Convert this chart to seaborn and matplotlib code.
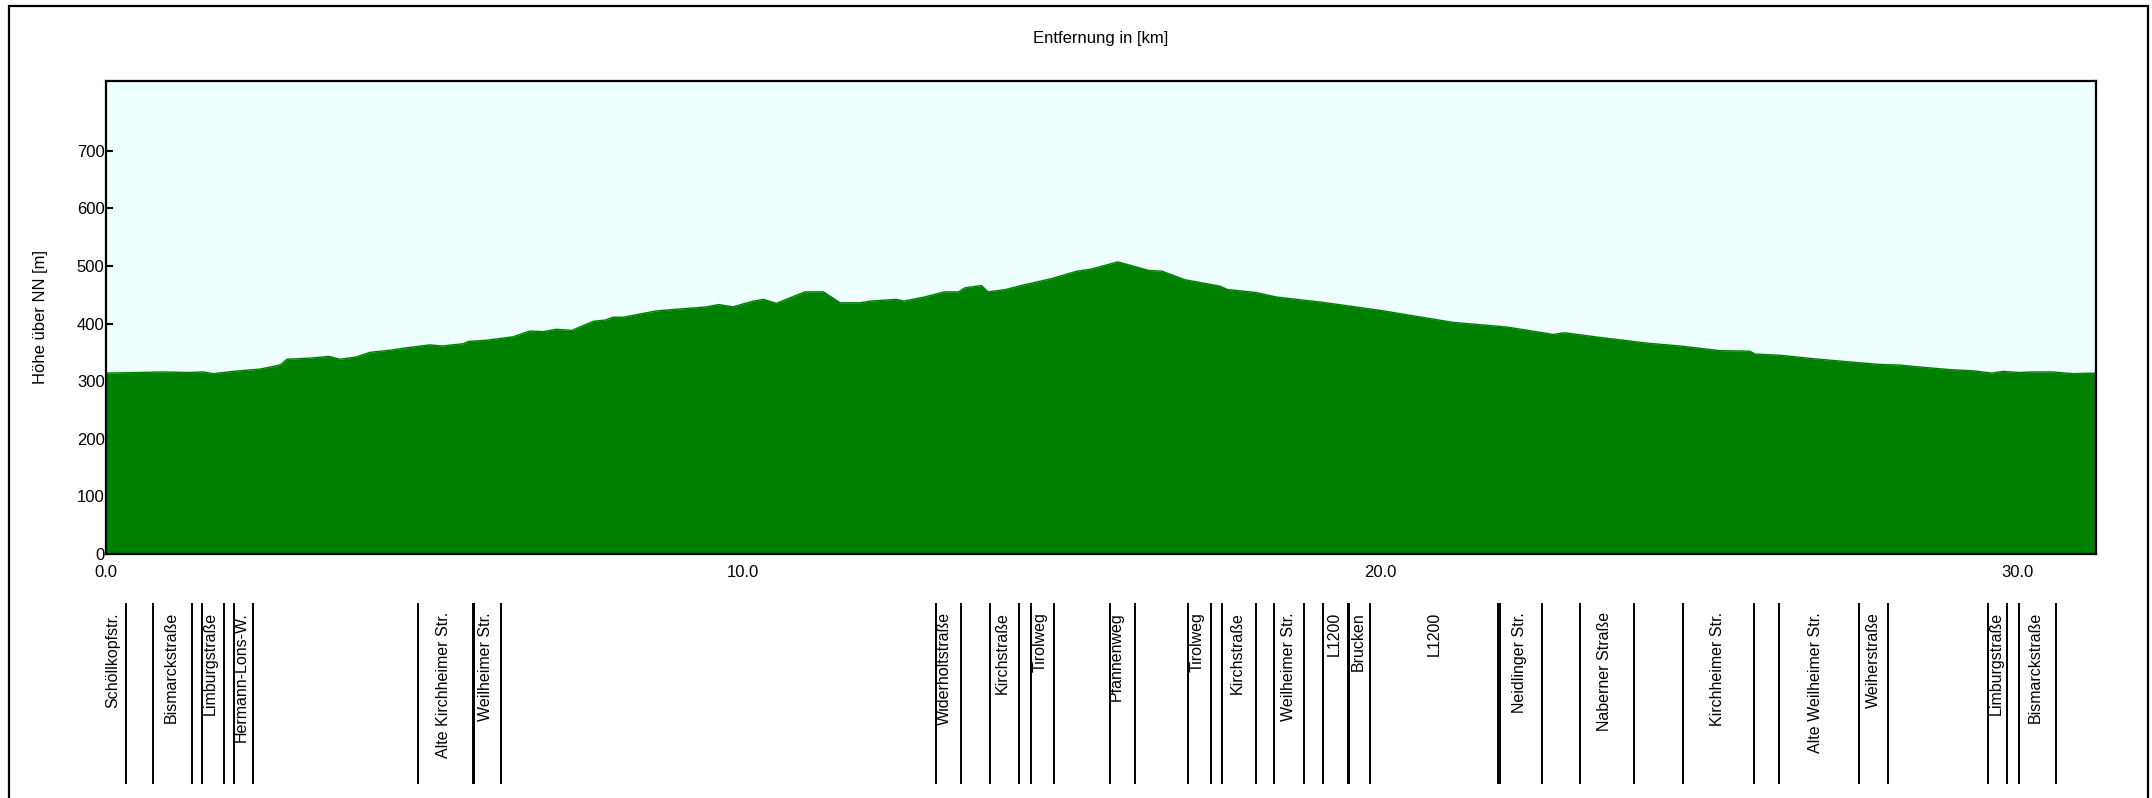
import matplotlib
matplotlib.use("Agg")
import matplotlib.pyplot as plt
from matplotlib.patches import Rectangle
from matplotlib.ticker import FormatStrFormatter
import seaborn as sns

sns.set_theme(style="white")
plt.rcParams['font.family'] = ['Liberation Sans', 'DejaVu Sans']
plt.rcParams['text.color'] = 'black'
plt.rcParams['axes.labelcolor'] = 'black'

# elevation profile (km, m)
dist_km = [0.0, 0.5, 0.9, 1.3, 1.53, 1.68, 2.0, 2.42, 2.73, 2.84, 3.2, 3.5, 3.67, 3.93,
           4.14, 4.48, 4.72, 5.08, 5.27, 5.61, 5.69, 5.97, 6.39, 6.65, 6.86, 7.07, 7.31,
           7.65, 7.83, 7.96, 8.12, 8.64, 9.43, 9.61, 9.84, 10.16, 10.32, 10.52, 10.72,
           10.97, 11.26, 11.52, 11.83, 12.0, 12.4, 12.52, 12.84, 13.16, 13.38, 13.48,
           13.74, 13.84, 14.12, 14.36, 14.84, 15.24, 15.44, 15.88, 16.37, 16.57, 16.93,
           17.48, 17.6, 18.04, 18.37, 19.08, 19.99, 21.14, 21.98, 22.55, 22.71, 22.89,
           23.44, 24.18, 24.7, 25.33, 25.8, 25.88, 26.27, 26.79, 27.3, 27.84, 28.15,
           28.42, 28.94, 29.3, 29.6, 29.77, 30.03, 30.24, 30.55, 30.87, 31.23]
elev_m = [314, 315, 316, 315, 316, 313, 317, 321, 328, 338, 340, 343, 338, 342,
          350, 354, 358, 363, 361, 365, 369, 371, 377, 387, 386, 390, 388,
          404, 406, 411, 411, 422, 429, 433, 429, 439, 442, 435, 444,
          455, 455, 436, 436, 439, 442, 439, 446, 455, 455, 462,
          466, 455, 459, 466, 478, 491, 494, 507, 492, 491, 476,
          465, 459, 454, 446, 437, 423, 402, 394, 384, 381, 384,
          376, 366, 361, 353, 352, 347, 345, 339, 334, 329, 328,
          325, 320, 318, 314, 317, 315, 316, 316, 313, 314]

x_ticks = [0, 10, 20, 30]
y_ticks = [0, 100, 200, 300, 400, 500, 600, 700]

# streets along the route
street_names = ['Schöllkopfstr.', 'Bismarckstraße', 'Limburgstraße', 'Hermann-Löns-W.',
                'Alte Kirchheimer Str.', 'Weilheimer Str.', 'Widerholtstraße', 'Kirchstraße',
                'Tirolweg', 'Pfannenweg', 'Tirolweg', 'Kirchstraße', 'Weilheimer Str.',
                'L1200', 'Brucken', 'L1200', 'Neidlinger Str.', 'Naberner Straße',
                'Kirchheimer Str.', 'Alte Weilheimer Str.', 'Weiherstraße', 'Limburgstraße',
                'Bismarckstraße']
street_label_km = [0.11, 1.02, 1.63, 2.13, 5.30, 5.95, 13.15, 14.06, 14.66, 15.86, 17.13,
                   17.76, 18.56, 19.28, 19.65, 20.84, 22.19, 23.52, 25.29, 26.83, 27.73,
                   29.66, 30.28]
street_bounds_km = [0.31, 0.74, 1.35, 1.51, 1.85, 2.01, 2.31, 4.90, 5.76, 5.78, 6.20,
                    13.02, 13.42, 13.87, 14.33, 14.51, 14.88, 15.75, 16.15, 16.98, 17.34,
                    17.51, 18.04, 18.33, 18.80, 19.10, 19.49, 19.51, 19.83, 21.85, 21.87,
                    22.53, 23.14, 23.98, 24.75, 25.87, 26.25, 27.51, 27.96, 29.53, 29.84,
                    30.02, 30.61]

green = '#008000'
W, H = 2152, 798
fig = plt.figure(figsize=(W / 100, H / 100), dpi=100)

ax = fig.add_axes([106 / W, 1 - 554 / H, 1990 / W, 473 / H])
ax.set_facecolor('#eeffff')
sns.lineplot(x=dist_km, y=elev_m, ax=ax, color=green, lw=1, estimator=None)
ax.fill_between(dist_km, elev_m, 0, color=green, lw=0)
ax.set_xlim(0, 31.23)
ax.set_ylim(0, 821)
ax.set_xticks(x_ticks)
ax.xaxis.set_major_formatter(FormatStrFormatter('%.1f'))
ax.set_yticks(y_ticks)
ax.tick_params(direction='in', length=5, width=1.5, labelsize=12, colors='black',
               left=True, bottom=True)
ax.tick_params(axis='y', pad=1)
ax.tick_params(axis='x', pad=8)
for s in ax.spines.values():
    s.set_visible(True)
    s.set_linewidth(1.6)
    s.set_color('black')
ax.set_xlabel('')
ax.set_ylabel('Höhe über NN [m]', fontsize=12, color='black')
ax.yaxis.set_label_coords(-0.029, 0.5)

fig.text(1101 / W, 1 - 38 / H, 'Entfernung in [km]', ha='center', va='center',
         fontsize=12, color='black')

# street strip below the profile
sax = fig.add_axes([106 / W, 1 - 784 / H, 1990 / W, 181 / H])
sax.set_xlim(0, 31.23)
sax.set_ylim(0, 1)
sax.axis('off')
sax.vlines(street_bounds_km, 0, 1, color='black', lw=1.4, clip_on=False)
for name, xk in zip(street_names, street_label_km):
    sax.text(xk, 0.95, name, rotation=90, ha='center', va='top', fontsize=11.5,
             color='black', clip_on=False)

fig.patches.append(Rectangle((9 / W, -0.05), 2139 / W, 1.05 - 6 / H,
                             transform=fig.transFigure, fill=False,
                             ec='black', lw=1.6))

fig.savefig('out.png', dpi=100)
